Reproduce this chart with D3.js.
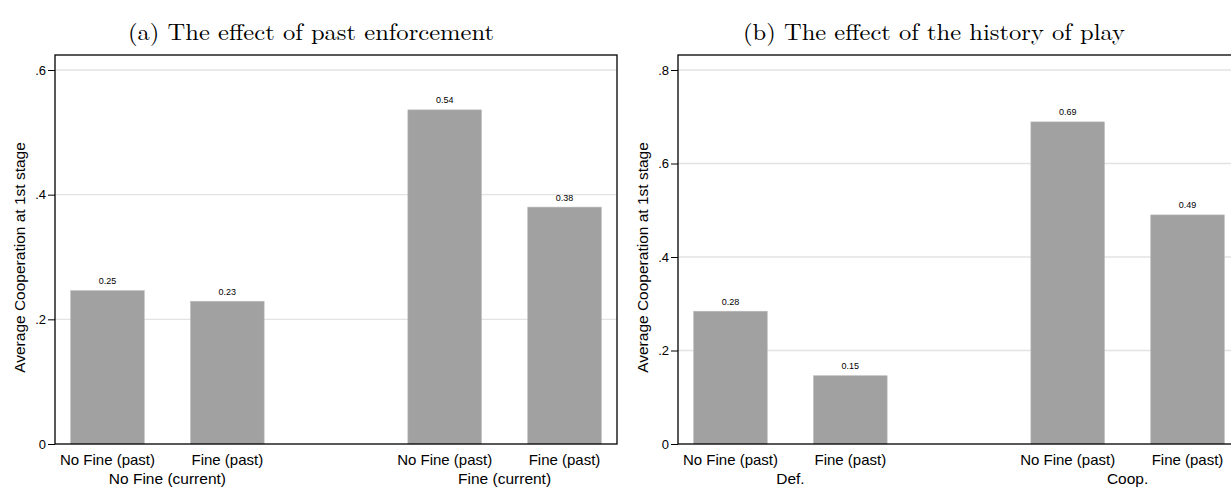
<!DOCTYPE html>
<html>
<head>
<meta charset="utf-8">
<script src="https://cdn.jsdelivr.net/npm/d3@7"></script>
<style>
  body { margin: 0; background: #fff; }
  svg { display: block; }
  .title { font-family: 'Latin Modern Roman', 'CMU Serif', 'Liberation Serif', serif; font-size: 23px; fill: #000; }
  .sans { font-family: 'Liberation Sans', Arial, sans-serif; fill: #000; }
</style>
</head>
<body>
<svg id="chart"></svg>
<script>
const panelTitles = ['(a) The effect of past enforcement', '(b) The effect of the history of play'];
const pastLabels = ['No Fine (past)', 'Fine (past)'];
const groupLabelsA = ['No Fine (current)', 'Fine (current)'];
const groupLabelsB = ['Def.', 'Coop.'];
const valuesA = [[0.246, 0.229], [0.536, 0.380]];
const valuesB = [[0.284, 0.146], [0.689, 0.490]];
const ticksA = [0, 0.2, 0.4, 0.6];
const ticksB = [0, 0.2, 0.4, 0.6, 0.8];
const yTitle = 'Average Cooperation at 1st stage';

const width = 1231;
const height = 491;

const svg = d3.select('#chart')
  .attr('width', width)
  .attr('height', height);

const drawPanel = (offset, title, titleWidth, groups, values, ticks) => {
  const left = 55;
  const right = 617;
  const top = 55;
  const bottom = 444;
  const g = svg.append('g').attr('transform', `translate(${offset},0)`);

  g.append('text')
    .attr('class', 'title')
    .attr('x', 311)
    .attr('y', 40)
    .attr('text-anchor', 'middle')
    .attr('textLength', titleWidth)
    .attr('lengthAdjust', 'spacingAndGlyphs')
    .text(title);

  const scaleY = d3.scaleLinear()
    .domain([0, d3.max(ticks)])
    .range([bottom, 70]);

  const scaleGroup = d3.scaleBand()
    .domain(groups)
    .range([left, right])
    .paddingInner(0.4264)
    .paddingOuter(0.0466);

  const scaleBar = d3.scaleBand()
    .domain(pastLabels)
    .range([0, scaleGroup.bandwidth()])
    .paddingInner(0.3865)
    .paddingOuter(0);

  // gridlines
  g.selectAll('.grid')
    .data(ticks.filter(d => d > 0))
    .enter().append('line')
    .attr('x1', left)
    .attr('x2', right)
    .attr('y1', d => scaleY(d))
    .attr('y2', d => scaleY(d))
    .attr('stroke', '#e3e3e3')
    .attr('stroke-width', 1.3);

  const group = g.selectAll('.group')
    .data(values)
    .enter().append('g')
    .attr('transform', (d, i) => `translate(${scaleGroup(groups[i])},0)`);

  group.selectAll('rect')
    .data(d => d)
    .enter().append('rect')
    .attr('x', (d, i) => scaleBar(pastLabels[i]))
    .attr('width', scaleBar.bandwidth())
    .attr('y', d => scaleY(d))
    .attr('height', d => scaleY(0) - scaleY(d))
    .attr('fill', '#a1a1a1')
    .attr('stroke', '#b8b8b8')
    .attr('stroke-width', 0.6);

  group.selectAll('.value')
    .data(d => d)
    .enter().append('text')
    .attr('class', 'sans')
    .attr('x', (d, i) => scaleBar(pastLabels[i]) + scaleBar.bandwidth() / 2)
    .attr('y', d => scaleY(d) - 6.5)
    .attr('text-anchor', 'middle')
    .attr('font-size', 9)
    .attr('fill', '#222')
    .text(d => d3.format('.2f')(d));

  group.selectAll('.past')
    .data(pastLabels)
    .enter().append('text')
    .attr('class', 'sans')
    .attr('x', d => scaleBar(d) + scaleBar.bandwidth() / 2)
    .attr('y', 465)
    .attr('text-anchor', 'middle')
    .attr('font-size', 15)
    .text(d => d);

  g.selectAll('.grouplabel')
    .data(groups)
    .enter().append('text')
    .attr('class', 'sans')
    .attr('x', d => scaleGroup(d) + scaleGroup.bandwidth() / 2)
    .attr('y', 484)
    .attr('text-anchor', 'middle')
    .attr('font-size', 15.5)
    .text(d => d);

  // y axis
  const axis = g.append('g')
    .attr('transform', `translate(${left},0)`)
    .call(d3.axisLeft(scaleY)
      .tickValues(ticks)
      .tickSize(7)
      .tickPadding(2)
      .tickFormat(d => d === 0 ? '0' : d3.format('.1f')(d).replace(/^0/, '')));
  axis.select('.domain').remove();
  axis.selectAll('line').attr('stroke', '#000').attr('stroke-width', 1);
  axis.selectAll('text')
    .attr('font-family', "'Liberation Sans', Arial, sans-serif")
    .attr('font-size', 13)
    .attr('fill', '#000');

  // plot frame
  g.append('rect')
    .attr('x', left)
    .attr('y', top)
    .attr('width', right - left)
    .attr('height', bottom - top)
    .attr('fill', 'none')
    .attr('stroke', '#000')
    .attr('stroke-width', 1.3);

  g.append('text')
    .attr('class', 'sans')
    .attr('transform', `translate(25,${(top + bottom) / 2 + 8}) rotate(-90)`)
    .attr('text-anchor', 'middle')
    .attr('font-size', 15.5)
    .text(yTitle);
};

drawPanel(0, panelTitles[0], 366, groupLabelsA, valuesA, ticksA);
drawPanel(623, panelTitles[1], 382, groupLabelsB, valuesB, ticksB);
</script>
</body>
</html>
